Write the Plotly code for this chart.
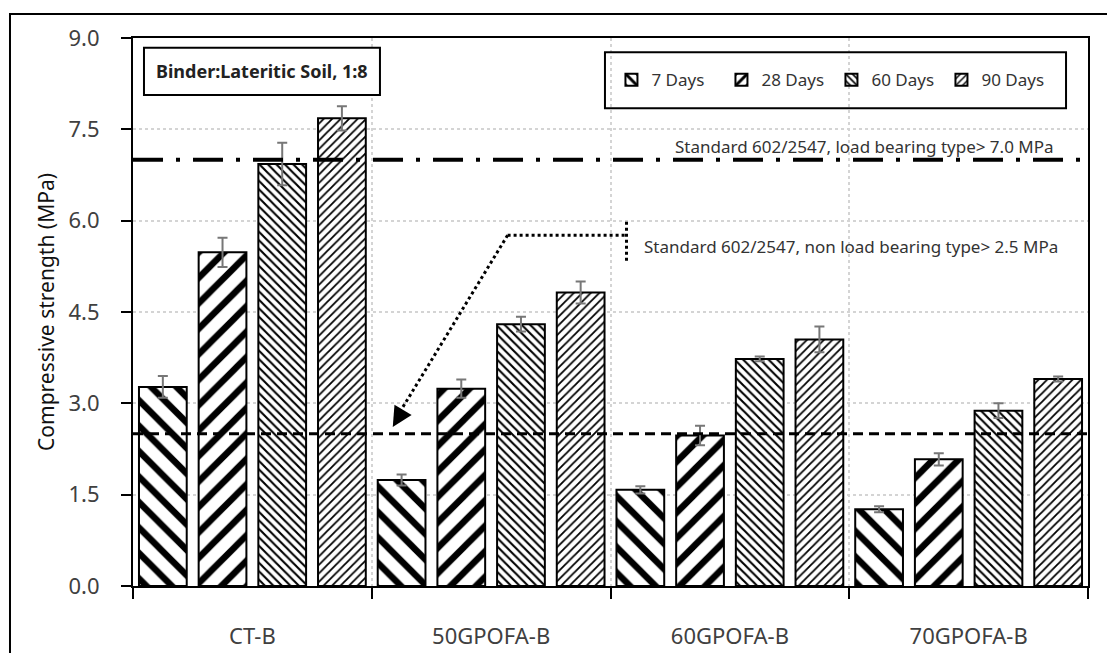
import plotly.graph_objects as go

categories = ["CT-B", "50GPOFA-B", "60GPOFA-B", "70GPOFA-B"]
series_names = ["7 Days", "28 Days", "60 Days", "90 Days"]
d7 = [3.27, 1.74, 1.58, 1.26]
d28 = [5.48, 3.24, 2.47, 2.08]
d60 = [6.93, 4.30, 3.73, 2.88]
d90 = [7.68, 4.82, 4.05, 3.40]
e7 = [0.18, 0.09, 0.06, 0.05]
e28 = [0.24, 0.15, 0.16, 0.10]
e60 = [0.35, 0.12, 0.04, 0.12]
e90 = [0.20, 0.18, 0.21, 0.04]
y_ticks = [0.0, 1.5, 3.0, 4.5, 6.0, 7.5, 9.0]
load_bearing = 7.0
non_load_bearing = 2.5

values = [d7, d28, d60, d90]
errors = [e7, e28, e60, e90]
patterns = [
    dict(shape="\\", size=18, solidity=0.36),
    dict(shape="/", size=18, solidity=0.36),
    dict(shape="\\", size=6, solidity=0.35),
    dict(shape="/", size=6, solidity=0.3),
]

FONT = "Noto Sans"
fig = go.Figure()
for name, v, e, p in zip(series_names, values, errors, patterns):
    fig.add_trace(go.Bar(
        name=name, x=categories, y=v,
        marker=dict(color="white", line=dict(color="black", width=2),
                    pattern=dict(fgcolor="black", bgcolor="white", fgopacity=1,
                                 fillmode="replace", **p)),
        error_y=dict(type="data", array=e, visible=True, color="#777777", thickness=2, width=5),
    ))

shapes = [
    # outer frame
    dict(type="rect", xref="paper", yref="paper", x0=-0.1288, x1=1.3, y0=-0.4, y1=1.0438,
         line=dict(color="black", width=2), fillcolor="rgba(0,0,0,0)", layer="above"),
    # standard lines
    dict(type="line", xref="paper", yref="y", x0=0, x1=1, y0=load_bearing, y1=load_bearing,
         line=dict(color="black", width=4, dash="30px,13px,4px,13px"), layer="above"),
    dict(type="line", xref="paper", yref="y", x0=0, x1=1, y0=non_load_bearing, y1=non_load_bearing,
         line=dict(color="black", width=3, dash="10px,6px"), layer="above"),
    # callout
    dict(type="line", xref="x", yref="y", x0=1.567, x1=1.567, y0=5.34, y1=6.01,
         line=dict(color="black", width=3, dash="dot")),
    dict(type="line", xref="x", yref="y", x0=1.069, x1=1.567, y0=5.76, y1=5.76,
         line=dict(color="black", width=3, dash="dot")),
    dict(type="line", xref="x", yref="y", x0=1.069, x1=0.615, y0=5.76, y1=2.84,
         line=dict(color="black", width=3, dash="dot")),
    # legend box
    dict(type="rect", xref="paper", yref="paper", x0=0.4942, x1=0.977, y0=0.872, y1=0.974,
         line=dict(color="black", width=2), fillcolor="rgba(0,0,0,0)"),
    # binder box
    dict(type="rect", xref="paper", yref="paper", x0=0.0115, x1=0.2586, y0=0.896, y1=0.982,
         line=dict(color="black", width=2), fillcolor="white"),
]

annotations = [
    dict(xref="paper", yref="paper", x=0.135, y=0.939, xanchor="center", yanchor="middle",
         text="<b>Binder:Lateritic Soil, 1:8</b>",
         showarrow=False, font=dict(family=FONT, size=18, color="#222222")),
    dict(xref="x", yref="y", x=3.366, y=load_bearing, yanchor="bottom", xanchor="right", yshift=0,
         text="Standard 602/2547, load bearing type> 7.0 MPa", showarrow=False,
         font=dict(family=FONT, size=17, color="#333333")),
    dict(xref="x", yref="y", x=1.634, y=5.57, xanchor="left", yanchor="middle",
         text="Standard 602/2547, non load bearing type> 2.5 MPa", showarrow=False,
         font=dict(family=FONT, size=17, color="#333333")),
    dict(xref="x", yref="y", x=0.588, y=2.61, ax=9, ay=-15, text="", showarrow=True,
         arrowhead=2, arrowsize=1.6, arrowwidth=2.5, arrowcolor="black", axref="pixel", ayref="pixel"),
]

fig.update_layout(
    width=1107, height=653,
    margin=dict(l=133, r=19, t=38, b=67, autoexpand=False),
    paper_bgcolor="white", plot_bgcolor="white",
    barmode="group", bargap=0.0, bargroupgap=0.2,
    font=dict(family=FONT, color="#333333"),
    shapes=shapes, annotations=annotations,
    legend=dict(orientation="h", x=0.501, y=0.923, xanchor="left", yanchor="middle",
                entrywidth=65, entrywidthmode="pixels", bgcolor="rgba(0,0,0,0)",
                font=dict(family=FONT, size=17, color="#333333"), traceorder="normal"),
)
fig.update_yaxes(
    range=[0, 9], tickvals=y_ticks, tickformat=".1f",
    showline=True, linecolor="black", linewidth=2, mirror=True,
    ticks="outside", ticklen=10, tickwidth=2, tickcolor="black",
    tickfont=dict(family=FONT, size=22, color="#404040"), ticklabelstandoff=17,
    showgrid=True, gridcolor="#d4d4d4", griddash="dot", gridwidth=1.5, zeroline=False,
    title=dict(text="Compressive strength (MPa)", font=dict(family=FONT, size=21, color="#111111"), standoff=8),
)
fig.update_xaxes(
    range=[-0.5, 3.5],
    showline=True, linecolor="black", linewidth=2, mirror=True,
    ticks="outside", tickson="boundaries", ticklen=11, tickwidth=2, tickcolor="black",
    tickfont=dict(family=FONT, size=22, color="#404040"), ticklabelstandoff=30,
    showgrid=True, gridcolor="#d4d4d4", griddash="dot", gridwidth=1.5,
)

fig.write_html("out.html")
